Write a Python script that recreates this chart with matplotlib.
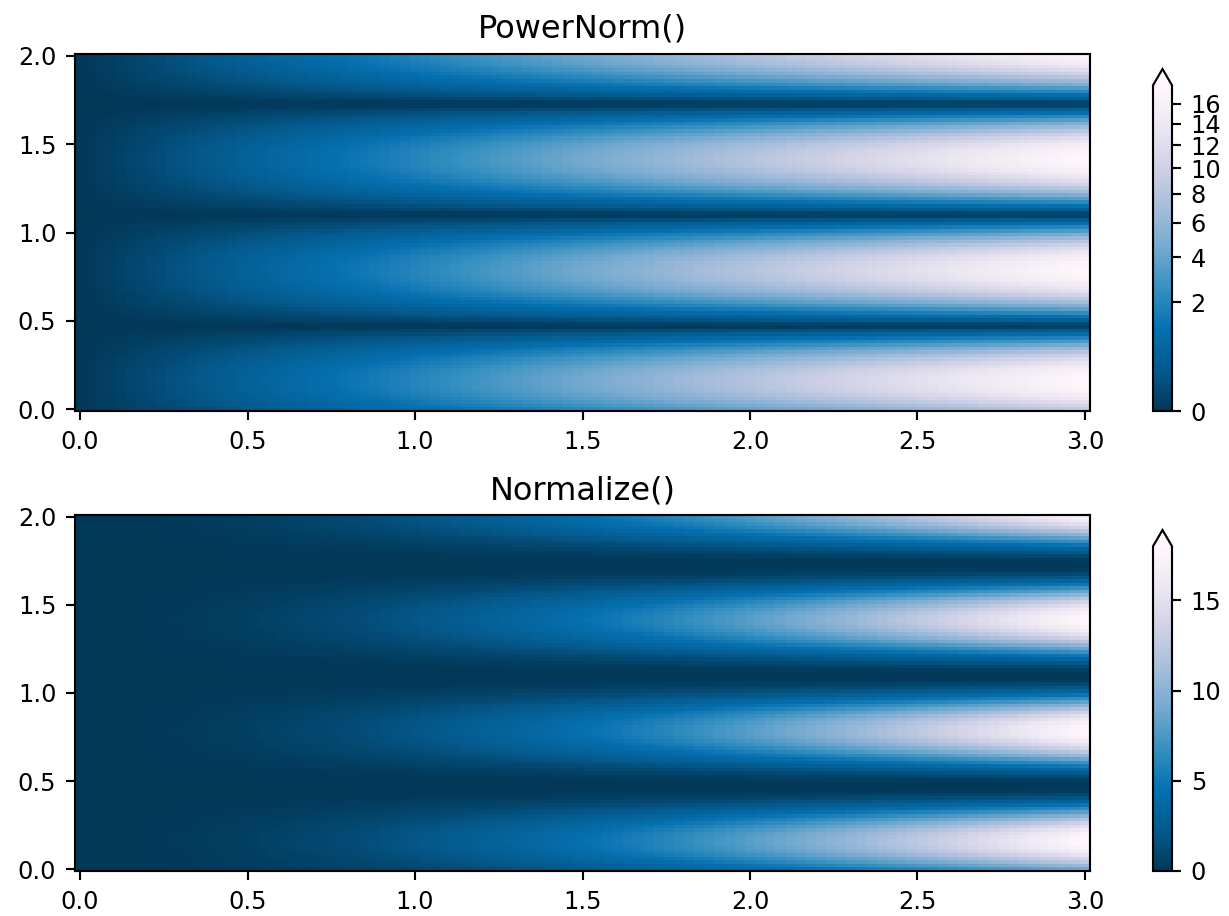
import numpy as np
import matplotlib.pyplot as plt
import matplotlib.colors as colors

# grid of the field (100 x 100 samples)
N = 100
x_range = [0.0, 3.0]
y_range = [0.0, 2.0]
freq = 10.0
gamma = 0.5

titles = ['PowerNorm()', 'Normalize()']
power_ticks = [0, 2, 4, 6, 8, 10, 12, 14, 16]
linear_ticks = [0, 5, 10, 15]

X, Y = np.mgrid[x_range[0]:x_range[1]:complex(0, N), y_range[0]:y_range[1]:complex(0, N)]
Z1 = (1 + np.sin(Y * freq)) * X**2

W, H = 1229, 916
fig = plt.figure(figsize=(W / 192, H / 192), dpi=192)


def box(x0, x1, y0, y1):
    # pixel box -> figure fraction
    return [x0 / W, 1 - y1 / H, (x1 - x0) / W, (y1 - y0) / H]


ax0 = fig.add_axes(box(75, 1090, 54, 411))
ax1 = fig.add_axes(box(75, 1090, 515, 871))
cax0 = fig.add_axes(box(1153, 1172, 69, 411))
cax1 = fig.add_axes(box(1153, 1172, 530, 871))

pcm = ax0.pcolormesh(X, Y, Z1, norm=colors.PowerNorm(gamma=gamma),
                     cmap='PuBu_r', shading='auto')
cb = fig.colorbar(pcm, cax=cax0, extend='max')
cb.set_ticks(power_ticks)
ax0.set_title(titles[0], fontsize=12)

pcm = ax1.pcolormesh(X, Y, Z1, cmap='PuBu_r', shading='auto')
cb = fig.colorbar(pcm, cax=cax1, extend='max')
cb.set_ticks(linear_ticks)
ax1.set_title(titles[1], fontsize=12)

for a in (ax0, ax1, cax0, cax1):
    a.tick_params(labelsize=9)

fig.savefig('out.png', dpi=192)
